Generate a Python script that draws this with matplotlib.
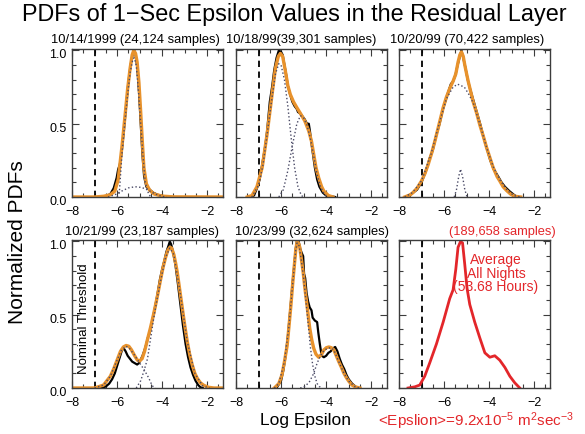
import numpy as np
import matplotlib
matplotlib.use('Agg')
import matplotlib.pyplot as plt
import matplotlib.transforms as mtransforms
from matplotlib.ticker import MultipleLocator

plt.rcParams['font.family'] = ['Liberation Sans', 'DejaVu Sans']
plt.rcParams['mathtext.fontset'] = 'custom'
plt.rcParams['mathtext.rm'] = 'Liberation Sans'
plt.rcParams['mathtext.it'] = 'Liberation Sans:italic'

titles = ['10/14/1999 (24,124 samples)', '10/18/99(39,301 samples)', '10/20/99 (70,422 samples)',
          '10/21/99 (23,187 samples)', '10/23/99 (32,624 samples)', '(189,658 samples)']
threshold = -7.0
xticks = [-8, -6, -4, -2]
yticks = [0.0, 0.5, 1.0]

# 10/14/1999
p1_x = [-6.8, -6.5, -6.3, -6.15, -6.02, -5.95, -5.88, -5.8, -5.7, -5.6, -5.5, -5.4, -5.3, -5.24,
        -5.18, -5.1, -5.02, -4.95, -4.88, -4.8, -4.7, -4.55, -4.4, -4.2, -3.9, -3.6]
p1_y = [0.0, 0.005, 0.02, 0.06, 0.13, 0.19, 0.22, 0.3, 0.45, 0.62, 0.78, 0.9, 0.98, 1.0,
        0.97, 0.88, 0.7, 0.5, 0.3, 0.14, 0.07, 0.05, 0.03, 0.015, 0.005, 0.0]
p1_fit_x = [-8.0, -7.0, -6.6, -6.3, -6.1, -5.95, -5.78, -5.65, -5.53, -5.42, -5.33, -5.26, -5.18,
            -5.11, -5.03, -4.96, -4.88, -4.81, -4.7, -4.55, -4.35, -4.0, -3.5, -1.3]
p1_fit_y = [0.0, 0.0, 0.005, 0.015, 0.04, 0.12, 0.35, 0.55, 0.74, 0.88, 0.97, 1.0, 0.98,
            0.92, 0.78, 0.6, 0.38, 0.2, 0.09, 0.045, 0.02, 0.006, 0.001, 0.0]
p1_c1_x = [-6.0, -5.9, -5.78, -5.65, -5.53, -5.42, -5.3, -5.24, -5.15, -5.05, -4.95, -4.85, -4.75, -4.6, -4.5]
p1_c1_y = [0.0, 0.03, 0.3, 0.52, 0.7, 0.85, 0.94, 0.95, 0.9, 0.72, 0.5, 0.28, 0.1, 0.02, 0.0]
p1_c2_x = [-6.4, -6.1, -5.8, -5.5, -5.2, -4.9, -4.6, -4.3, -4.0, -3.8]
p1_c2_y = [0.0, 0.015, 0.04, 0.062, 0.07, 0.065, 0.045, 0.02, 0.004, 0.0]

# 10/18/99
p2_x = [-7.4, -7.2, -7.07, -6.95, -6.84, -6.7, -6.62, -6.5, -6.4, -6.3, -6.2, -6.1, -6.0, -5.93,
        -5.85, -5.78, -5.7, -5.6, -5.5, -5.4, -5.3, -5.25, -5.15, -5.05, -4.95, -4.85, -4.77,
        -4.72, -4.62, -4.5, -4.4, -4.3, -4.15, -4.0, -3.8, -3.6]
p2_y = [0.0, 0.01, 0.06, 0.12, 0.22, 0.35, 0.45, 0.65, 0.75, 0.87, 0.95, 1.0, 0.99, 0.97,
        0.9, 0.84, 0.76, 0.7, 0.65, 0.62, 0.6, 0.58, 0.57, 0.55, 0.53, 0.5, 0.5,
        0.45, 0.33, 0.2, 0.12, 0.07, 0.03, 0.01, 0.005, 0.0]
p2_fit_x = [-7.5, -7.29, -7.07, -6.84, -6.62, -6.4, -6.25, -6.12, -6.03, -5.93, -5.81, -5.7, -5.59,
            -5.45, -5.3, -5.14, -4.95, -4.77, -4.65, -4.55, -4.45, -4.33, -4.2, -4.1, -3.9, -3.7]
p2_fit_y = [0.0, 0.01, 0.07, 0.2, 0.43, 0.7, 0.88, 0.96, 0.98, 0.96, 0.86, 0.76, 0.7,
            0.65, 0.61, 0.57, 0.52, 0.45, 0.38, 0.29, 0.2, 0.13, 0.07, 0.04, 0.01, 0.0]
p2_c1_x = [-7.3, -7.0, -6.8, -6.6, -6.4, -6.25, -6.1, -6.0, -5.85, -5.7, -5.55, -5.4, -5.25, -5.1, -5.0]
p2_c1_y = [0.0, 0.08, 0.22, 0.45, 0.68, 0.84, 0.91, 0.9, 0.8, 0.62, 0.4, 0.2, 0.07, 0.01, 0.0]
p2_c2_x = [-6.1, -5.9, -5.7, -5.5, -5.3, -5.14, -5.0, -4.85, -4.7, -4.55, -4.4, -4.25, -4.1, -3.95]
p2_c2_y = [0.0, 0.05, 0.18, 0.35, 0.5, 0.555, 0.54, 0.49, 0.4, 0.28, 0.15, 0.07, 0.025, 0.0]

# 10/20/99
p3_x = [-7.7, -7.45, -7.2, -7.0, -6.8, -6.65, -6.5, -6.35, -6.2, -6.05, -5.95, -5.85, -5.7, -5.6,
        -5.5, -5.4, -5.3, -5.23, -5.15, -5.05, -4.95, -4.85, -4.7, -4.55, -4.4, -4.25, -4.1,
        -3.95, -3.8, -3.6, -3.45, -3.3, -3.1, -2.9, -2.75]
p3_y = [0.0, 0.02, 0.05, 0.1, 0.18, 0.26, 0.32, 0.42, 0.5, 0.6, 0.65, 0.7, 0.77, 0.79,
        0.83, 0.9, 0.96, 1.0, 0.95, 0.88, 0.8, 0.74, 0.66, 0.58, 0.5, 0.41, 0.33,
        0.25, 0.19, 0.14, 0.1, 0.07, 0.04, 0.015, 0.0]
p3_fit_x = [-7.75, -7.5, -7.38, -7.2, -7.0, -6.85, -6.71, -6.55, -6.41, -6.2, -6.04, -5.9, -5.75,
            -5.6, -5.48, -5.38, -5.3, -5.23, -5.15, -5.08, -5.0, -4.93, -4.82, -4.71, -4.55,
            -4.41, -4.25, -4.12, -3.95, -3.82, -3.65, -3.53, -3.38, -3.23, -3.05, -2.86, -2.6]
p3_fit_y = [0.0, 0.015, 0.03, 0.06, 0.11, 0.16, 0.22, 0.3, 0.38, 0.51, 0.61, 0.68, 0.74,
            0.79, 0.84, 0.92, 0.97, 0.99, 0.96, 0.9, 0.84, 0.79, 0.72, 0.65, 0.57,
            0.49, 0.41, 0.34, 0.26, 0.2, 0.14, 0.11, 0.07, 0.045, 0.02, 0.005, 0.0]
p3_c1_x = [-7.75, -7.4, -7.0, -6.6, -6.2, -5.9, -5.6, -5.4, -5.25, -5.1, -4.9, -4.7, -4.4,
           -4.1, -3.8, -3.5, -3.2, -2.9, -2.6]
p3_c1_y = [0.0, 0.03, 0.11, 0.28, 0.51, 0.67, 0.75, 0.77, 0.76, 0.75, 0.7, 0.64, 0.49,
           0.33, 0.2, 0.11, 0.045, 0.01, 0.0]
p3_c2_x = [-5.55, -5.45, -5.35, -5.27, -5.18, -5.08, -4.98]
p3_c2_y = [0.0, 0.05, 0.14, 0.19, 0.14, 0.05, 0.0]

# 10/21/99
p4_x = [-6.7, -6.5, -6.35, -6.22, -6.1, -6.0, -5.9, -5.78, -5.7, -5.62, -5.53, -5.43, -5.33,
        -5.22, -5.11, -5.03, -4.96, -4.87, -4.78, -4.7, -4.64, -4.55, -4.44, -4.33, -4.22,
        -4.1, -4.0, -3.9, -3.81, -3.72, -3.66, -3.6, -3.52, -3.41, -3.3, -3.19, -3.08,
        -2.96, -2.85, -2.74, -2.63, -2.52, -2.4, -2.3, -2.2]
p4_y = [0.0, 0.01, 0.03, 0.06, 0.1, 0.15, 0.2, 0.26, 0.27, 0.25, 0.22, 0.2, 0.18,
        0.17, 0.16, 0.17, 0.19, 0.22, 0.26, 0.3, 0.34, 0.38, 0.46, 0.54, 0.63,
        0.74, 0.81, 0.87, 0.93, 0.97, 1.0, 0.98, 0.93, 0.84, 0.71, 0.57, 0.43,
        0.3, 0.21, 0.14, 0.09, 0.05, 0.02, 0.005, 0.0]
p4_fit_x = [-8.0, -7.0, -6.6, -6.3, -6.15, -6.0, -5.85, -5.72, -5.6, -5.48, -5.36, -5.22, -5.1,
            -5.0, -4.89, -4.78, -4.67, -4.52, -4.37, -4.22, -4.07, -3.95, -3.85, -3.75, -3.66,
            -3.58, -3.48, -3.4, -3.33, -3.22, -3.11, -3.0, -2.89, -2.78, -2.67, -2.55, -2.44,
            -2.3, -2.15, -1.95, -1.7, -1.3]
p4_fit_y = [0.0, 0.0, 0.02, 0.08, 0.13, 0.19, 0.25, 0.28, 0.29, 0.285, 0.26, 0.22, 0.19,
            0.185, 0.2, 0.25, 0.32, 0.41, 0.51, 0.62, 0.74, 0.83, 0.89, 0.94, 0.96,
            0.955, 0.91, 0.85, 0.79, 0.67, 0.55, 0.43, 0.32, 0.23, 0.16, 0.1, 0.065,
            0.035, 0.018, 0.005, 0.0, 0.0]
p4_c1_x = [-7.0, -6.6, -6.3, -6.0, -5.8, -5.6, -5.45, -5.25, -5.0, -4.8, -4.6, -4.44, -4.3]
p4_c1_y = [0.0, 0.02, 0.08, 0.19, 0.26, 0.285, 0.27, 0.23, 0.17, 0.125, 0.07, 0.015, 0.0]
p4_c2_x = [-5.15, -4.95, -4.8, -4.65, -4.52, -4.37, -4.22, -4.07, -3.85, -3.66, -3.48, -3.22,
           -2.89, -2.55, -2.2, -1.9]
p4_c2_y = [0.0, 0.05, 0.12, 0.2, 0.33, 0.48, 0.61, 0.73, 0.89, 0.955, 0.91, 0.67,
           0.32, 0.1, 0.015, 0.0]

# 10/23/99
p5_x = [-6.2, -6.0, -5.9, -5.8, -5.7, -5.6, -5.5, -5.42, -5.35, -5.3, -5.22, -5.15, -5.08, -5.02,
        -4.98, -4.93, -4.87, -4.8, -4.73, -4.65, -4.6, -4.5, -4.4, -4.35, -4.28, -4.2, -4.1,
        -4.0, -3.9, -3.8, -3.7, -3.6, -3.5, -3.4, -3.3, -3.2, -3.1, -3.0, -2.85, -2.7, -2.6]
p5_y = [0.0, 0.05, 0.12, 0.22, 0.35, 0.52, 0.7, 0.83, 0.95, 1.0, 1.0, 0.95, 0.92, 0.9,
        0.78, 0.75, 0.65, 0.59, 0.55, 0.53, 0.48, 0.46, 0.45, 0.38, 0.3, 0.22, 0.21,
        0.22, 0.24, 0.25, 0.27, 0.28, 0.25, 0.2, 0.16, 0.13, 0.09, 0.06, 0.03, 0.01, 0.0]
p5_fit_x = [-6.3, -6.1, -5.96, -5.85, -5.73, -5.65, -5.56, -5.48, -5.41, -5.35, -5.29, -5.23,
            -5.17, -5.1, -5.02, -4.95, -4.87, -4.8, -4.73, -4.64, -4.55, -4.45, -4.33, -4.2,
            -4.1, -3.99, -3.88, -3.77, -3.66, -3.55, -3.44, -3.32, -3.21, -3.1, -2.99, -2.85,
            -2.7, -2.5]
p5_fit_y = [0.0, 0.03, 0.09, 0.18, 0.29, 0.42, 0.57, 0.72, 0.84, 0.94, 1.0, 0.99,
            0.96, 0.88, 0.79, 0.69, 0.59, 0.5, 0.41, 0.33, 0.27, 0.23, 0.21, 0.23,
            0.26, 0.275, 0.28, 0.275, 0.26, 0.22, 0.18, 0.14, 0.1, 0.07, 0.045, 0.02,
            0.007, 0.0]
p5_c1_x = [-6.3, -6.1, -5.85, -5.65, -5.48, -5.35, -5.29, -5.2, -5.1, -5.0, -4.9, -4.8, -4.7,
           -4.6, -4.5, -4.4, -4.3, -4.2]
p5_c1_y = [0.0, 0.03, 0.18, 0.42, 0.72, 0.94, 0.99, 0.97, 0.87, 0.75, 0.6, 0.44, 0.28,
           0.16, 0.08, 0.03, 0.01, 0.0]
p5_c2_x = [-5.15, -4.95, -4.75, -4.55, -4.4, -4.25, -4.1, -3.95, -3.8, -3.66, -3.44, -3.21,
           -2.99, -2.7, -2.5]
p5_c2_y = [0.0, 0.01, 0.04, 0.1, 0.17, 0.22, 0.255, 0.27, 0.275, 0.26, 0.18, 0.1,
           0.045, 0.007, 0.0]

# average, all nights
p6_x = [-7.6, -7.3, -7.08, -6.86, -6.64, -6.34, -6.04, -5.75, -5.6, -5.48, -5.38, -5.27, -5.18,
        -5.08, -4.98, -4.86, -4.64, -4.41, -4.19, -3.97, -3.75, -3.53, -3.3, -3.08, -2.86, -2.64]
p6_y = [0.0, 0.008, 0.02, 0.08, 0.17, 0.3, 0.45, 0.61, 0.67, 0.81, 0.96, 1.0, 0.99,
        0.84, 0.68, 0.57, 0.45, 0.34, 0.24, 0.21, 0.22, 0.19, 0.14, 0.08, 0.035, 0.0]

W, H = 585.0, 434.0
col_left = [72, 236, 399]
row_top = [49, 240]
ax_w, ax_h = 151, 148

black_x = [p1_x, p2_x, p3_x, p4_x, p5_x]
black_y = [p1_y, p2_y, p3_y, p4_y, p5_y]
fit_x = [p1_fit_x, p2_fit_x, p3_fit_x, p4_fit_x, p5_fit_x]
fit_y = [p1_fit_y, p2_fit_y, p3_fit_y, p4_fit_y, p5_fit_y]
comps = [[(p1_c1_x, p1_c1_y), (p1_c2_x, p1_c2_y)],
         [(p2_c1_x, p2_c1_y), (p2_c2_x, p2_c2_y)],
         [(p3_c1_x, p3_c1_y), (p3_c2_x, p3_c2_y)],
         [(p4_c1_x, p4_c1_y), (p4_c2_x, p4_c2_y)],
         [(p5_c1_x, p5_c1_y), (p5_c2_x, p5_c2_y)]]

orange = '#E8922C'
red = '#E3262A'
frame = '#3c3c3c'

fig = plt.figure(figsize=(5.85, 4.34), dpi=100)
ylab_shift = mtransforms.ScaledTranslation(0, -2.5 / 72, fig.dpi_scale_trans)

for i in range(6):
    r, c = divmod(i, 3)
    left = col_left[c] / W
    bottom = 1 - (row_top[r] + ax_h) / H
    ax = fig.add_axes([left, bottom, ax_w / W, ax_h / H])
    ax.axvline(threshold, color='black', lw=1.3, ls=(0, (3.5, 2.5)))
    if i < 5:
        ax.plot(black_x[i], black_y[i], color='black', lw=1.6)
        ax.plot(fit_x[i], fit_y[i], color=orange, lw=2.4)
        for cx, cy in comps[i]:
            ax.plot(cx, cy, color='#4a4a66', lw=1.0, ls=':')
    else:
        ax.plot(p6_x, p6_y, color=red, lw=2.0)
    ax.set_xlim(-8, -1.3)
    ax.set_ylim(0, 1.01)
    ax.set_xticks(xticks)
    ax.set_yticks(yticks)
    ax.xaxis.set_minor_locator(MultipleLocator(0.5))
    ax.yaxis.set_minor_locator(MultipleLocator(0.1))
    ax.tick_params(which='both', direction='in', top=True, right=True, colors=frame,
                   labelcolor='black', labelsize=9, width=0.8)
    ax.tick_params(which='major', length=5)
    ax.tick_params(which='minor', length=3)
    ax.tick_params(axis='x', pad=6.5)
    ax.tick_params(axis='y', pad=4)
    ax.set_xticklabels(['\u22128', '\u22126', '\u22124', '\u22122'])
    if c == 0:
        ax.set_yticklabels(['0.0', '0.5', '1.0'])
        for lab in ax.get_yticklabels():
            lab.set_transform(lab.get_transform() + ylab_shift)
    else:
        ax.set_yticklabels([])
    for s in ax.spines.values():
        s.set_color(frame)
        s.set_linewidth(1.0)
    if i == 3:
        ax.text(-7.45, 0.47, 'Nominal Threshold', rotation=90, ha='center', va='center',
                fontsize=9.5)
    if i == 5:
        ax.text(-3.7, 0.78, 'Average\nAll Nights\n(53.68 Hours)', color=red, fontsize=10,
                ha='center', va='center', linespacing=0.95)

# panel titles
title_cx = [135, 301, 467, 142, 312, 502]
title_cy = [40, 40, 40, 232, 232, 232]
for i in range(6):
    fig.text(title_cx[i] / W, 1 - title_cy[i] / H, titles[i], ha='center', va='center',
             fontsize=9.3, color=red if i == 5 else 'black')

fig.text(294 / W, 1 - 15 / H, 'PDFs of 1\u2212Sec Epsilon Values in the Residual Layer',
         ha='center', va='center', fontsize=16.8)
fig.text(18 / W, 1 - 242 / H, 'Normalized PDFs', rotation=90, ha='center', va='center',
         fontsize=15)
fig.text(306 / W, 1 - 420 / H, 'Log Epsilon', ha='center', va='center', fontsize=12.5)
fig.text(476 / W, 1 - 421 / H, r'<Epslion>=9.2x10$^{-5}$ m$^{2}$sec$^{-3}$', color=red,
         ha='center', va='center', fontsize=11)

plt.savefig('out.png', dpi=100)
